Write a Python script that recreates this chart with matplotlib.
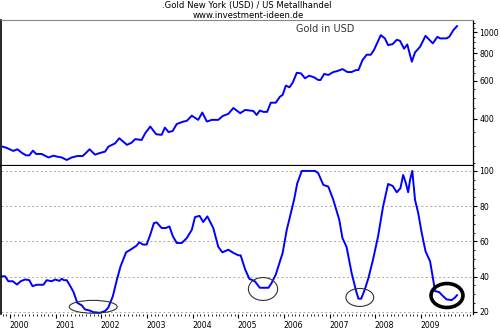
import matplotlib
matplotlib.use("Agg")
import matplotlib.pyplot as plt
from matplotlib.patches import Ellipse
from matplotlib.ticker import FixedLocator, MultipleLocator, NullFormatter
import numpy as np

# Gold price (USD), decimal year -> price
gold_t = [1999.84, 1999.93, 2000.07, 2000.16, 2000.26, 2000.35, 2000.42, 2000.50,
          2000.57, 2000.69, 2000.84, 2000.95, 2001.04, 2001.13, 2001.24, 2001.35,
          2001.47, 2001.59, 2001.66, 2001.74, 2001.86, 2001.97, 2002.08, 2002.15,
          2002.30, 2002.39, 2002.56, 2002.66, 2002.74, 2002.88, 2002.96, 2003.07,
          2003.20, 2003.32, 2003.39, 2003.47, 2003.56, 2003.65, 2003.78, 2003.87,
          2003.98, 2004.12, 2004.21, 2004.31, 2004.42, 2004.56, 2004.66, 2004.78,
          2004.89, 2005.04, 2005.15, 2005.26, 2005.33, 2005.40, 2005.47, 2005.55,
          2005.63, 2005.71, 2005.82, 2005.91, 2005.97, 2006.04, 2006.12, 2006.19,
          2006.28, 2006.37, 2006.46, 2006.55, 2006.66, 2006.75, 2006.80, 2006.88,
          2006.97, 2007.08, 2007.17, 2007.28, 2007.39, 2007.48, 2007.58, 2007.63,
          2007.72, 2007.81, 2007.90, 2007.97, 2008.12, 2008.21, 2008.28, 2008.38,
          2008.47, 2008.54, 2008.63, 2008.70, 2008.80, 2008.87, 2008.98, 2009.10,
          2009.26, 2009.36, 2009.42, 2009.56, 2009.62, 2009.71, 2009.79]
gold_usd = [298, 294, 285, 290, 279, 272, 272, 286,
            276, 276, 266, 271, 268, 266, 259, 266,
            270, 270, 279, 290, 274, 279, 283, 298,
            309, 326, 304, 311, 323, 320, 344, 369,
            340, 338, 365, 348, 352, 379, 388, 392,
            414, 396, 428, 389, 396, 396, 413, 422,
            449, 425, 440, 437, 435, 417, 437, 431,
            431, 475, 475, 506, 516, 569, 559, 587,
            652, 648, 615, 632, 621, 604, 604, 644,
            637, 657, 664, 678, 657, 657, 671, 671,
            746, 789, 789, 829, 971, 938, 874, 883,
            924, 915, 841, 880, 733, 809, 858, 964,
            890, 954, 938, 938, 954, 1024, 1068]

# Oscillator (0-100), decimal year -> value
osc_t = [1999.82, 1999.89, 1999.96, 2000.06, 2000.15, 2000.23, 2000.33, 2000.42,
         2000.49, 2000.58, 2000.73, 2000.80, 2000.91, 2000.99, 2001.08, 2001.13,
         2001.18, 2001.24, 2001.31, 2001.39, 2001.47, 2001.57, 2001.64, 2001.74,
         2001.82, 2001.97, 2002.08, 2002.15, 2002.25, 2002.34, 2002.42, 2002.54,
         2002.66, 2002.77, 2002.83, 2002.91, 2002.99, 2003.07, 2003.15, 2003.21,
         2003.32, 2003.41, 2003.49, 2003.56, 2003.65, 2003.76, 2003.87, 2003.98,
         2004.05, 2004.15, 2004.23, 2004.32, 2004.45, 2004.56, 2004.65, 2004.78,
         2004.89, 2005.00, 2005.05, 2005.15, 2005.24, 2005.36, 2005.47, 2005.58,
         2005.66, 2005.73, 2005.82, 2005.90, 2005.97, 2006.06, 2006.15, 2006.22,
         2006.29, 2006.39, 2006.68, 2006.75, 2006.86, 2006.97, 2007.08, 2007.21,
         2007.28, 2007.37, 2007.48, 2007.58, 2007.63, 2007.69, 2007.77, 2007.85,
         2007.95, 2008.06, 2008.17, 2008.28, 2008.38, 2008.47, 2008.55, 2008.61,
         2008.66, 2008.72, 2008.76, 2008.81, 2008.87, 2008.94, 2009.01, 2009.10,
         2009.20, 2009.31, 2009.40, 2009.47, 2009.56, 2009.67, 2009.74, 2009.79]
osc_val = [40.2, 40.2, 37.4, 37.4, 35.5, 37.4, 38.4, 38.0,
           34.6, 35.4, 35.4, 38.0, 37.4, 38.4, 37.6, 38.8,
           38.0, 38.0, 35.0, 31.2, 25.2, 23.7, 21.4, 20.8,
           19.9, 19.5, 20.5, 22.4, 28.9, 38.4, 45.9, 53.8,
           55.7, 57.6, 59.5, 58.2, 58.2, 63.8, 70.4, 70.8,
           67.6, 67.6, 68.5, 63.2, 59.1, 59.1, 61.9, 66.6,
           73.8, 74.5, 71.0, 74.2, 67.6, 56.9, 53.8, 55.3,
           53.5, 52.1, 52.1, 44.0, 38.8, 37.4, 33.7, 33.7,
           33.7, 36.5, 41.2, 47.8, 53.5, 66.6, 76.1, 83.6,
           93.0, 100.0, 100.0, 98.7, 92.1, 91.1, 83.6, 72.3,
           61.9, 56.9, 42.2, 31.8, 27.5, 27.5, 32.7, 39.3,
           49.7, 62.8, 79.8, 92.6, 91.5, 87.9, 90.2, 97.7,
           93.9, 87.9, 94.9, 100.0, 83.6, 76.1, 65.7, 54.4,
           48.7, 31.8, 31.2, 29.3, 27.1, 26.7, 28.0, 29.5]

years = list(range(2000, 2010))
gold_ticks = [400, 600, 800, 1000]
osc_ticks = [20, 40, 60, 80, 100]

# circled lows: (center year, center value, width yr, height, line width, colour)
marks = [(2001.82, 22.9, 1.05, 7.3, 0.8, "#333333"),
         (2005.54, 33.0, 0.64, 13.0, 0.8, "#333333"),
         (2007.66, 28.2, 0.61, 10.2, 0.8, "#333333"),
         (2009.57, 29.3, 0.70, 13.6, 2.6, "black")]

plt.rcParams["font.family"] = "DejaVu Sans"
blue = "#0000ff"
fs = 5.6

fig = plt.figure(figsize=(5.0, 3.33), dpi=100)
ax1 = fig.add_axes([0.002, 0.5015, 0.944, 0.4385])
ax2 = fig.add_axes([0.002, 0.057, 0.944, 0.4445])
xlim = (1999.80, 2010.14)

# upper panel: gold price on log scale
ax1.plot(gold_t, gold_usd, color=blue, lw=1.4)
ax1.set_yscale("log")
ax1.set_ylim(243, 1140)
ax1.set_xlim(*xlim)
ax1.yaxis.tick_right()
ax1.yaxis.set_major_locator(FixedLocator(gold_ticks))
ax1.yaxis.set_major_formatter(plt.FixedFormatter([str(v) for v in gold_ticks]))
ax1.yaxis.set_minor_locator(FixedLocator(np.arange(250, 1150, 50)))
ax1.yaxis.set_minor_formatter(NullFormatter())
ax1.tick_params(axis="y", which="major", length=3, width=0.8, labelsize=fs, pad=1.5)
ax1.tick_params(axis="y", which="minor", length=1.6, width=0.6)
ax1.set_xticks([])
ax1.spines["top"].set_color("#888888")
ax1.spines["bottom"].set_linewidth(1.6)
ax1.spines["left"].set_linewidth(1.2)
ax1.spines["right"].set_linewidth(0.9)
ax1.text(0.687, 0.935, "Gold in USD", transform=ax1.transAxes, ha="center",
         va="center", fontsize=7, color="#333333")

# lower panel: oscillator
ax2.plot(osc_t, osc_val, color=blue, lw=1.4)
ax2.set_ylim(18.8, 102.8)
ax2.set_xlim(*xlim)
for v in osc_ticks:
    ax2.axhline(v, color="#aaaaaa", lw=0.7, ls=(0, (2, 2.5)), zorder=0)
ax2.yaxis.tick_right()
ax2.set_yticks(osc_ticks)
ax2.yaxis.set_minor_locator(MultipleLocator(5))
ax2.tick_params(axis="y", which="major", length=3, width=0.8, labelsize=fs, pad=1.5)
ax2.tick_params(axis="y", which="minor", length=1.6, width=0.6)
ax2.set_xticks(years)
ax2.set_xticklabels([])
ax2.set_xticks(np.arange(1999 + 10 / 12, 2010.1, 1 / 12), minor=True)
ax2.tick_params(axis="x", which="major", length=3, width=0.8)
ax2.tick_params(axis="x", which="minor", length=1.6, width=0.6)
for yr in years:
    ax2.text(yr + 0.2, -0.075, str(yr), transform=ax2.get_xaxis_transform(),
             ha="center", va="center", fontsize=fs)
ax2.spines["top"].set_visible(False)
ax2.spines["bottom"].set_visible(False)
ax2.spines["left"].set_linewidth(1.2)
ax2.spines["right"].set_linewidth(0.9)

for cx, cy, w, h, lw, col in marks:
    ax2.add_patch(Ellipse((cx, cy), w, h, fill=False, lw=lw, ec=col, zorder=3))

fig.text(0.494, 0.982, ".Gold New York (USD) / US Metallhandel", ha="center",
         va="center", fontsize=6.1)
fig.text(0.497, 0.953, "www.investment-ideen.de", ha="center", va="center",
         fontsize=6.1)

fig.savefig("out.png", dpi=100, facecolor="white")
